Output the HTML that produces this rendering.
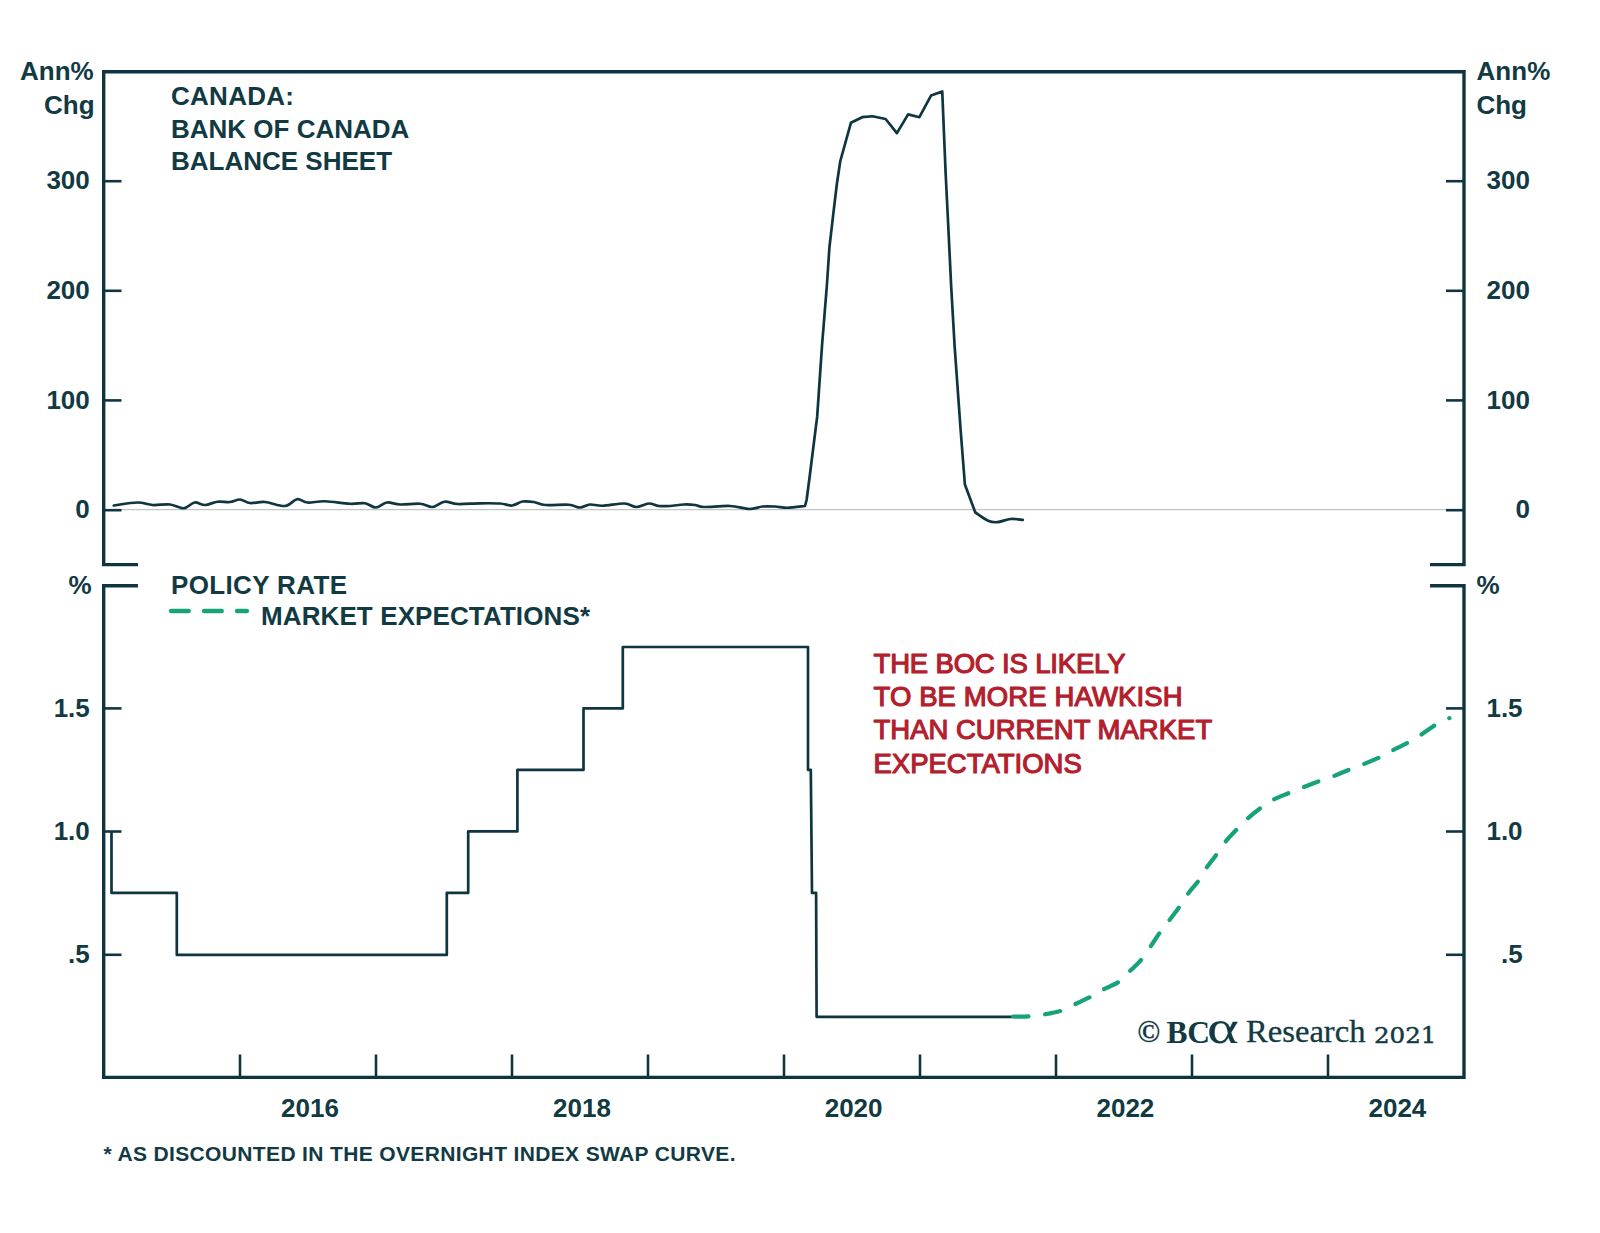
<!DOCTYPE html>
<html lang="en">
<head>
<meta charset="utf-8">
<title>Canada: Bank of Canada Balance Sheet and Policy Rate</title>
<style>
  html, body { margin: 0; padding: 0; background: #ffffff; }
  body { width: 1600px; height: 1233px; overflow: hidden; }
  svg { display: block; }
  .t  { font-family: "Liberation Sans", Arial, Helvetica, sans-serif; font-weight: 700; fill: #123a43; }
  .ax { stroke: #0f3640; fill: none; }
  .red { font-family: "Liberation Sans", Arial, Helvetica, sans-serif; font-weight: 400; fill: #b3202c; stroke: #b3202c; stroke-width: 1.15px; stroke-linejoin: round; }
  .serif { font-family: "Liberation Serif", "Times New Roman", serif; fill: #123a43; }
</style>
</head>
<body>
<svg width="1600" height="1233" viewBox="0 0 1600 1233">
  <rect x="0" y="0" width="1600" height="1233" fill="#ffffff"/>

  <!-- ================= TOP PANEL ================= -->
  <!-- zero line -->
  <line x1="104" y1="509.6" x2="1447" y2="509.6" stroke="#c2c5c5" stroke-width="1.3"/>

  <!-- frame: left, top, right with bottom corner brackets -->
  <path class="ax" stroke-width="3.4" stroke-linejoin="miter" d="M138 564.6 H103.7 V71.8 H1464 V564.6 H1430"/>

  <!-- left ticks -->
  <g class="ax" stroke-width="2.6">
    <line x1="104" y1="181.2" x2="121.5" y2="181.2"/>
    <line x1="104" y1="290.8" x2="121.5" y2="290.8"/>
    <line x1="104" y1="400.4" x2="121.5" y2="400.4"/>
    <line x1="104" y1="510.2" x2="121.5" y2="510.2"/>
    <line x1="1464" y1="181.2" x2="1446" y2="181.2"/>
    <line x1="1464" y1="290.8" x2="1446" y2="290.8"/>
    <line x1="1464" y1="400.4" x2="1446" y2="400.4"/>
    <line x1="1464" y1="510.2" x2="1446" y2="510.2"/>
  </g>

  <!-- left axis labels -->
  <g class="t" font-size="26" text-anchor="end">
    <text x="93.7" y="80.4">Ann%</text>
    <text x="94.6" y="113.5">Chg</text>
    <text x="89.8" y="189.3">300</text>
    <text x="89.8" y="298.9">200</text>
    <text x="89.8" y="408.5">100</text>
    <text x="89.8" y="518.4">0</text>
  </g>
  <!-- right axis labels -->
  <g class="t" font-size="26" text-anchor="start">
    <text x="1476.6" y="80.4">Ann%</text>
    <text x="1476.4" y="113.5">Chg</text>
  </g>
  <g class="t" font-size="26" text-anchor="end">
    <text x="1530" y="189.3">300</text>
    <text x="1530" y="298.9">200</text>
    <text x="1530" y="408.5">100</text>
    <text x="1530" y="518.4">0</text>
  </g>

  <!-- title -->
  <g class="t" font-size="26">
    <text x="171" y="104.9" textLength="123">CANADA:</text>
    <text x="171" y="137.7">BANK OF CANADA</text>
    <text x="171" y="169.6">BALANCE SHEET</text>
  </g>

  <!-- balance sheet series -->
  <path id="bs" fill="none" stroke="#0f3640" stroke-width="2.7" stroke-linejoin="round" stroke-linecap="round"
    d="M113.75 505.5 C117.71 505.00 131.04 502.58 137.5 502.5 C143.96 502.42 147.08 504.67 152.5 505 C157.92 505.33 164.79 503.96 170 504.5 C175.21 505.04 179.67 508.58 183.75 508.25 C187.83 507.92 190.96 503.04 194.5 502.5 C198.04 501.96 201.17 505.12 205 505 C208.83 504.88 213.33 502.25 217.5 501.75 C221.67 501.25 226.25 502.38 230 502 C233.75 501.62 236.67 499.33 240 499.5 C243.33 499.67 245.83 502.58 250 503 C254.17 503.42 259.17 501.50 265 502 C270.83 502.50 279.67 506.46 285 506 C290.33 505.54 293.25 499.83 297 499.25 C300.75 498.67 302.83 502.17 307.5 502.5 C312.17 502.83 317.92 501.04 325 501.25 C332.08 501.46 343.33 503.42 350 503.75 C356.67 504.08 360.71 502.62 365 503.25 C369.29 503.88 372.08 507.62 375.75 507.5 C379.42 507.38 382.96 503.00 387 502.5 C391.04 502.00 394.50 504.29 400 504.5 C405.50 504.71 414.58 503.33 420 503.75 C425.42 504.17 428.42 507.33 432.5 507 C436.58 506.67 440.33 502.25 444.5 501.75 C448.67 501.25 451.58 503.74 457.5 504 C463.42 504.26 472.92 503.38 480 503.3 C487.08 503.22 494.67 503.13 500 503.5 C505.33 503.87 508.25 505.83 512 505.5 C515.75 505.17 518.88 502.08 522.5 501.5 C526.12 500.92 529.92 501.42 533.75 502 C537.58 502.58 539.67 504.54 545.5 505 C551.33 505.46 563.00 504.33 568.75 504.75 C574.50 505.17 576.46 507.54 580 507.5 C583.54 507.46 586.25 504.79 590 504.5 C593.75 504.21 596.75 505.92 602.5 505.75 C608.25 505.58 618.88 503.29 624.5 503.5 C630.12 503.71 632.21 507.00 636.25 507 C640.29 507.00 645.00 503.67 648.75 503.5 C652.50 503.33 655.21 505.58 658.75 506 C662.29 506.42 665.83 506.25 670 506 C674.17 505.75 679.58 504.67 683.75 504.5 C687.92 504.33 691.67 504.58 695 505 C698.33 505.42 697.92 506.83 703.75 507 C709.58 507.17 722.38 505.67 730 506 C737.62 506.33 744.08 508.92 749.5 509 C754.92 509.08 758.25 506.92 762.5 506.5 C766.75 506.08 770.83 506.29 775 506.5 C779.17 506.71 782.50 507.83 787.5 507.75 C792.50 507.67 802.08 506.29 805 506 L806.6 500 L809.9 474.8 L817.2 416.4 L822 345.8 L826.9 285 L829.4 247.5 L833.1 215.6 L836.9 183.75 L840.25 161.25 L850.9 122.8 L862.2 117.2 L872.5 116.25 L885.6 119 L896.9 133.1 L908.1 114.4 L919.4 117.2 L931 95.6 L942.25 91.5 L945.6 172.5 L948.4 228.75 L951.1 285 L954.6 345.8 L960.7 431 L964.9 484.5 L975.3 512.5 C977.33 513.83 983.85 518.88 987.5 520.5 C991.15 522.12 993.35 522.45 997.2 522.2 C1001.05 521.95 1006.33 519.40 1010.6 519 C1014.87 518.60 1020.77 519.67 1022.8 519.8"/>

  <!-- ================= BOTTOM PANEL ================= -->
  <path class="ax" stroke-width="3.4" stroke-linejoin="miter" d="M138 585.8 H103.7 V1077.4 H1464 V585.8 H1430"/>

  <g class="ax" stroke-width="2.6">
    <line x1="104" y1="708.4" x2="121.5" y2="708.4"/>
    <line x1="104" y1="831.5" x2="121.5" y2="831.5"/>
    <line x1="104" y1="954.8" x2="121.5" y2="954.8"/>
    <line x1="1464" y1="708.4" x2="1446" y2="708.4"/>
    <line x1="1464" y1="831.5" x2="1446" y2="831.5"/>
    <line x1="1464" y1="954.8" x2="1446" y2="954.8"/>
  </g>
  <!-- x ticks -->
  <g class="ax" stroke-width="2.6">
    <line x1="240" y1="1077" x2="240" y2="1054.5"/>
    <line x1="376" y1="1077" x2="376" y2="1054.5"/>
    <line x1="512" y1="1077" x2="512" y2="1054.5"/>
    <line x1="648" y1="1077" x2="648" y2="1054.5"/>
    <line x1="784" y1="1077" x2="784" y2="1054.5"/>
    <line x1="920" y1="1077" x2="920" y2="1054.5"/>
    <line x1="1056" y1="1077" x2="1056" y2="1054.5"/>
    <line x1="1192" y1="1077" x2="1192" y2="1054.5"/>
    <line x1="1328" y1="1077" x2="1328" y2="1054.5"/>
  </g>

  <!-- y labels -->
  <g class="t" font-size="26" text-anchor="end">
    <text x="91.6" y="594.3">%</text>
    <text x="89.8" y="716.8">1.5</text>
    <text x="89.8" y="839.6">1.0</text>
    <text x="89.8" y="963">.5</text>
  </g>
  <g class="t" font-size="26" text-anchor="start">
    <text x="1476.6" y="594.3">%</text>
  </g>
  <g class="t" font-size="26" text-anchor="end">
    <text x="1522.6" y="716.8">1.5</text>
    <text x="1522.6" y="839.6">1.0</text>
    <text x="1522.6" y="963">.5</text>
  </g>

  <!-- x labels -->
  <g class="t" font-size="26" text-anchor="middle">
    <text x="310" y="1116.6">2016</text>
    <text x="582" y="1116.6">2018</text>
    <text x="853.6" y="1116.6">2020</text>
    <text x="1125.4" y="1116.6">2022</text>
    <text x="1397.4" y="1116.6">2024</text>
  </g>

  <!-- legend -->
  <g class="t" font-size="26">
    <text x="171" y="594.3" textLength="176">POLICY RATE</text>
    <text x="261" y="625.1" textLength="329">MARKET EXPECTATIONS*</text>
  </g>
  <line x1="171.1" y1="611" x2="246.9" y2="611" stroke="#16a37c" stroke-width="4.4" stroke-linecap="round" stroke-dasharray="17.6 15.4"/>

  <!-- policy rate step series -->
  <path fill="none" stroke="#0f3640" stroke-width="2.7" stroke-linejoin="round"
    d="M111.5 831.4 V892.9 H176.8 V954.9 H446.8 V892.9 H468.2 V831.4 H517.4 V769.9 H583.5 V708.4 H622.8 V647 H808 V769.9 H810.8 L812 892.9 H816.1 L816.6 1016.8 H1012"/>

  <!-- market expectations -->
  <path id="mx" fill="none" stroke="#16a37c" stroke-width="4.2" stroke-linecap="round" stroke-dasharray="15.3 16.947"
    d="M1013.1 1016.6 C1015.70 1016.57 1023.55 1016.75 1028.7 1016.4 C1033.85 1016.05 1038.58 1015.43 1044 1014.5 C1049.42 1013.57 1056.05 1012.50 1061.2 1010.8 C1066.35 1009.10 1070.02 1006.62 1074.9 1004.3 C1079.78 1001.98 1085.73 999.38 1090.5 996.9 C1095.27 994.42 1098.73 991.95 1103.5 989.4 C1108.27 986.85 1114.67 984.68 1119.1 981.6 C1123.53 978.52 1126.47 974.48 1130.1 970.9 C1133.73 967.32 1137.48 964.17 1140.9 960.1 C1144.32 956.03 1147.47 951.05 1150.6 946.5 C1153.73 941.95 1156.62 937.13 1159.7 932.8 C1162.78 928.47 1165.90 924.72 1169.1 920.5 C1172.30 916.28 1175.75 911.95 1178.9 907.5 C1182.05 903.05 1184.75 898.25 1188 893.8 C1191.25 889.35 1195.32 885.13 1198.4 880.8 C1201.48 876.47 1203.52 872.13 1206.5 867.8 C1209.48 863.47 1213.15 859.13 1216.3 854.8 C1219.45 850.47 1222.00 846.02 1225.4 841.8 C1228.80 837.58 1232.92 833.45 1236.7 829.5 C1240.48 825.55 1244.20 821.62 1248.1 818.1 C1252.00 814.58 1255.87 811.48 1260.1 808.4 C1264.33 805.32 1268.73 802.15 1273.5 799.6 C1278.27 797.05 1283.72 795.17 1288.7 793.1 C1293.68 791.03 1298.42 789.15 1303.4 787.2 C1308.38 785.25 1313.47 783.28 1318.6 781.4 C1323.73 779.52 1329.00 777.90 1334.2 775.9 C1339.40 773.90 1344.75 771.42 1349.8 769.4 C1354.85 767.38 1359.52 765.82 1364.5 763.8 C1369.48 761.78 1374.88 759.62 1379.7 757.3 C1384.52 754.98 1388.63 752.38 1393.4 749.9 C1398.17 747.42 1403.67 744.95 1408.3 742.4 C1412.93 739.85 1416.52 737.62 1421.2 734.6 C1425.88 731.58 1431.70 727.05 1436.4 724.3 C1441.10 721.55 1447.23 719.13 1449.4 718.1"/>

  <!-- red annotation -->
  <g class="red" font-size="27.5">
    <text x="873.5" y="672.5" textLength="252">THE BOC IS LIKELY</text>
    <text x="873.5" y="705.7" textLength="309">TO BE MORE HAWKISH</text>
    <text x="873.5" y="739.2">THAN CURRENT MARKET</text>
    <text x="873.5" y="772.5">EXPECTATIONS</text>
  </g>

  <!-- copyright -->
  <text class="serif" x="1137.3" y="1042.2" font-size="30.5" font-weight="700" stroke="#123a43" stroke-width="0.2">©</text>
  <text class="serif" x="1166.6" y="1042.6" font-size="31.5" font-weight="700">B<tspan x="1187.2">C</tspan></text><text class="serif" x="0" y="0" transform="translate(1209.6,1042.8) skewX(12) scale(1.3,1)" font-size="46" font-style="italic" stroke="#123a43" stroke-width="0.15">α</text>
  <text class="serif" x="1246" y="1042.4" font-size="31.5" textLength="119.5" lengthAdjust="spacingAndGlyphs" stroke="#123a43" stroke-width="0.3">Research</text>
  <text x="1374" y="1042.8" font-size="21.8" font-family="'DejaVu Serif', 'Liberation Serif', serif" fill="#123a43" stroke="#123a43" stroke-width="0.45" textLength="62.5" lengthAdjust="spacingAndGlyphs">2021</text>

  <!-- footnote -->
  <text class="t" x="103.5" y="1160.6" font-size="21" textLength="632">* AS DISCOUNTED IN THE OVERNIGHT INDEX SWAP CURVE.</text>
</svg>
</body>
</html>
